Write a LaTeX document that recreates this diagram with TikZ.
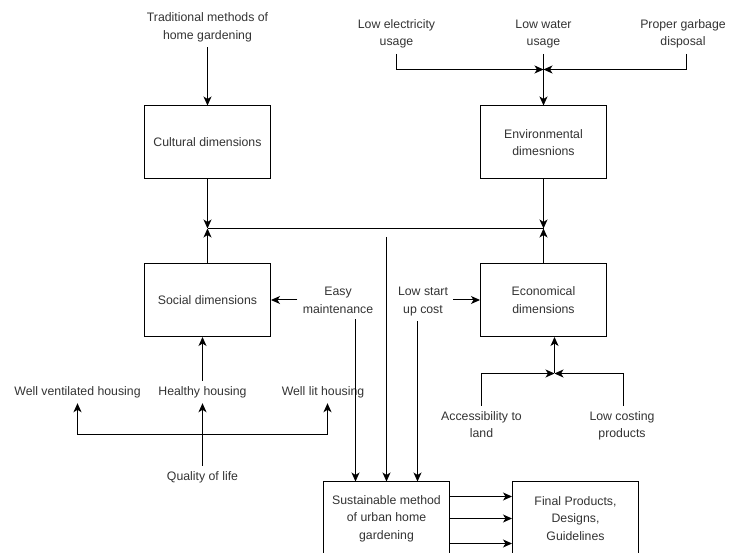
\documentclass[tikz,border=0pt]{standalone}
\usepackage{fontspec}
\setmainfont{Liberation Sans}
\usepackage{tikz}
\usetikzlibrary{arrows.meta}

\definecolor{txtgray}{HTML}{333333}

\begin{document}
\begin{tikzpicture}[->, >={Stealth[length=9pt, width=8pt, inset=2.5pt]}, x=1pt, y=-1pt, line width=1pt,
		font=\fontsize{12.3}{17.5}\selectfont]
			\tikzstyle{dimbox}=[draw=black, fill=white, line width=1pt, text=txtgray, align=center, minimum width=126pt, minimum height=73pt, inner sep=2pt]
			\tikzstyle{factor}=[text=txtgray, align=center, inner sep=5pt]
			\clip (0,0) rectangle (729,553);
			% dimensions
			\node[dimbox]   (cult)  at (207.5,142.5) {Cultural dimensions};
			\node[dimbox]   (env)   at (543.5,142.5) {Environmental\\dimesnions};
			\node[dimbox]   (soc)   at (207.5,300)   {Social dimensions};
			\node[dimbox]   (econ)  at (543.5,300)   {Economical\\dimensions};
			\node[dimbox]   (sust)  at (386.5,518.5) {Sustainable method\\of urban home\\gardening};
			\node[dimbox]   (final) at (575.5,518.5) {Final Products,\\Designs,\\Guidelines};
			% factors
			\node[factor]   (trad)  at (207.5,27.5)  {Traditional methods of\\home gardening};
			\node[factor]   (elec)  at (396.5,34)    {Low electricity\\usage};
			\node[factor]   (water) at (543.5,34)    {Low water\\usage};
			\node[factor]   (garb)  at (683,34)      {Proper garbage\\disposal};
			\node[factor]   (easy)  at (338,300.5)   {Easy\\maintenance};
			\node[factor]   (start) at (423,301.5)   {Low start\\up cost};
			\node[factor]   (vent)  at (77.5,392)    {Well ventilated housing};
			\node[factor]   (heal)  at (202.5,392)   {Healthy housing};
			\node[factor]   (lit)   at (323,392)     {Well lit housing};
			\node[factor]   (qual)  at (202.5,477)   {Quality of life};
			\node[factor]   (acc)   at (481.5,424.5) {Accessibility to\\land};
			\node[factor]   (cost)  at (622,426)     {Low costing\\products};
			% junctions
			\coordinate (envj) at (543.5,69.5);
			\coordinate (lj)   at (207.5,228.5);
			\coordinate (rj)   at (543.5,228.5);
			\coordinate (mtop) at (386.5,237);
			\coordinate (ej)   at (554.5,373.5);
			\coordinate (qj)   at (202.5,434.5);
			% connectors
			\draw (trad) -- (cult);
			\draw (elec) |- (envj);
			\draw (garb.south -| 686.5,0) |- (envj);
			\draw (water) -- (env);
			\draw (cult) -- (lj);
			\draw (soc) -- (lj);
			\draw (env) -- (rj);
			\draw (econ) -- (rj);
			\draw[-] (lj) -- (rj);
			\draw (easy.west |- soc.east) -- (soc.east);
			\draw (start.east |- econ.west) -- (econ.west);
			\draw ([xshift=17.5pt]easy.south) -- ([xshift=17.5pt]easy.south |- sust.north);
			\draw ([xshift=-5.5pt]start.south) -- ([xshift=-5.5pt]start.south |- sust.north);
			\draw (mtop) -- (sust);
			\draw ([yshift=22pt]sust.east) -- ([yshift=22pt]sust.east -| final.west);
			\draw (sust.east) -- (final.west);
			\draw ([yshift=-25pt]sust.east) -- ([yshift=-25pt]sust.east -| final.west);
			\draw (acc) |- (ej);
			\draw (cost.north -| 623.5,0) |- (ej);
			\draw (ej) -- (ej |- econ.south);
			\draw (heal.north) -- (heal.north |- soc.south);
			\draw (qual) -- (heal);
			\draw (qj) -| (vent);
			\draw (qj) -| ([xshift=4.5pt]lit.south);
		\end{tikzpicture}
\end{document}
